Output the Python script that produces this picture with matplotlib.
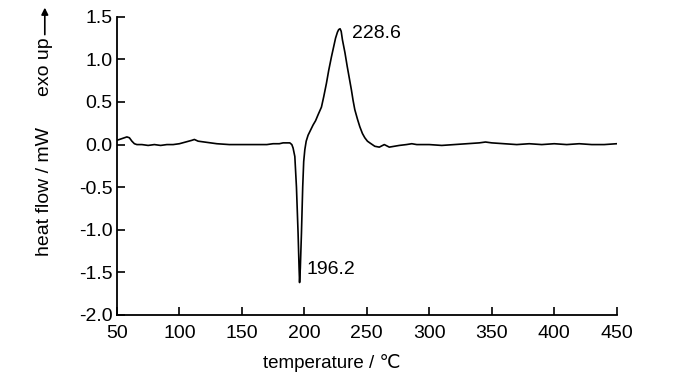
import matplotlib
matplotlib.use("Agg")
from matplotlib import pyplot as plt

plt.rcParams['font.family'] = ['Liberation Sans', 'DejaVu Sans']

# DSC curve
temperature = [50, 52, 54, 56, 58, 60, 62, 64, 66, 70, 75, 80, 85, 90, 95, 100,
               105, 110, 112, 115, 120, 125, 130, 140, 150, 160, 170, 175, 180,
               183, 186, 188.4, 190, 191, 192.4, 193.7, 195, 195.8, 196.2, 196.8,
               197.7, 198.7, 199.5, 200.4, 201.5, 203, 205, 207, 209, 211, 213.7,
               215.5, 217.7, 219.5, 221.7, 223.5, 225, 226.5, 227.5, 228.6, 229.5,
               230.5, 232.5, 234.3, 236, 237.7, 239, 240.4, 242.5, 244.4, 246.5,
               248.4, 250.5, 252.4, 256.4, 260, 264, 268, 272, 276, 281.7, 286,
               290, 300, 310, 320, 330, 340, 345, 350, 360, 370, 380, 390, 400,
               410, 420, 430, 440, 450]
heat_flow = [0.05, 0.06, 0.07, 0.08, 0.09, 0.08, 0.04, 0.01, 0.0, 0.0, -0.01,
             0.0, -0.01, 0.0, 0.0, 0.01, 0.03, 0.05, 0.06, 0.04, 0.03, 0.02,
             0.01, 0.0, 0.0, 0.0, 0.0, 0.01, 0.01, 0.02, 0.02, 0.02, 0.0, -0.04,
             -0.14, -0.5, -1.04, -1.45, -1.62, -1.45, -1.04, -0.5, -0.2, -0.06,
             0.04, 0.11, 0.17, 0.23, 0.28, 0.35, 0.44, 0.56, 0.72, 0.87, 1.03,
             1.15, 1.25, 1.32, 1.35, 1.36, 1.33, 1.23, 1.08, 0.92, 0.78, 0.64,
             0.52, 0.41, 0.3, 0.21, 0.13, 0.08, 0.04, 0.02, -0.02, -0.03, 0.0,
             -0.03, -0.02, -0.01, 0.0, 0.01, 0.0, 0.0, -0.01, 0.0, 0.01, 0.02,
             0.03, 0.02, 0.01, 0.0, 0.01, 0.0, 0.01, 0.0, 0.01, 0.0, 0.0, 0.01]

peak_labels = ["228.6", "196.2"]
peak_pos = [(238, 1.30), (202, -1.47)]

fig = plt.figure(figsize=(7, 3.74), dpi=100)
ax = fig.add_axes([0.167, 0.158, 0.714, 0.797])

ax.plot(temperature, heat_flow, color='black', lw=1.2)

ax.set_xlim(50, 450)
ax.set_ylim(-2.0, 1.5)
ax.set_xticks(range(50, 451, 50))
ax.set_yticks([-2.0, -1.5, -1.0, -0.5, 0.0, 0.5, 1.0, 1.5])
ax.set_yticklabels(['%.1f' % v for v in ax.get_yticks()])

for s in ['top', 'right']:
    ax.spines[s].set_visible(False)
for s in ['left', 'bottom']:
    ax.spines[s].set_linewidth(1.3)
ax.tick_params(direction='in', length=6, width=1.2, labelsize=14)
ax.tick_params(axis='x', pad=7)
ax.tick_params(axis='y', pad=3)

ax.set_xlabel('temperature / ℃', fontsize=13.5, labelpad=1)
ax.xaxis.set_label_coords(0.43, -0.13)

for lab, (tx, ty) in zip(peak_labels, peak_pos):
    ax.text(tx, ty, lab, fontsize=14, va='center', ha='left')

# y label and exo up arrow
fig.text(0.064, 0.487, 'heat flow / mW', rotation=90, fontsize=14,
         ha='center', va='center')
fig.text(0.064, 0.823, 'exo up', rotation=90, fontsize=14,
         ha='center', va='center')
ax.annotate('', xy=(0.064, 0.987), xytext=(0.064, 0.9),
            xycoords='figure fraction', textcoords='figure fraction',
            arrowprops=dict(arrowstyle='-|>', color='black', lw=1.2,
                            mutation_scale=10))

fig.savefig('out.png', dpi=100)
